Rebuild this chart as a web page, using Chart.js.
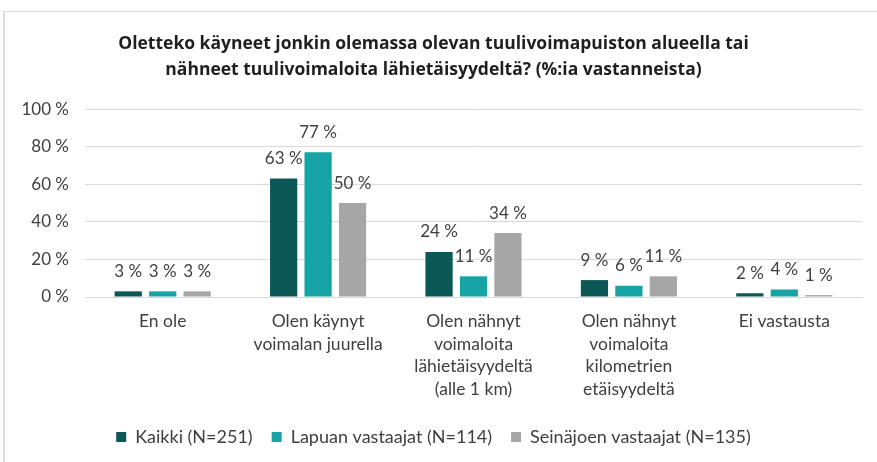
<!DOCTYPE html>
<html>
<head>
<meta charset="utf-8">
<script src="https://cdn.jsdelivr.net/npm/chart.js@4.4.1/dist/chart.umd.min.js"></script>
<style>
  html, body { margin: 0; padding: 0; background: #fff; }
  #frame { position: absolute; left: 3px; top: 11px; width: 874px; height: 451px;
           border-top: 1px solid #d9d9d9; border-left: 2px solid #dcdcdc; box-sizing: border-box; }
  #wrap { position: absolute; left: 5px; top: 12px; width: 872px; height: 450px; }
</style>
</head>
<body>
<div id="frame"></div>
<div id="wrap"><canvas id="chart"></canvas></div>
<script>
  /* ── Data ─────────────────────────────────────────────────────── */
  var TITLE = [
    "Oletteko käyneet jonkin olemassa olevan tuulivoimapuiston alueella tai",
    "nähneet tuulivoimaloita lähietäisyydeltä? (%:ia vastanneista)"
  ];
  var CATEGORIES = [
    "En ole",
    ["Olen käynyt", "voimalan juurella"],
    ["Olen nähnyt", "voimaloita", "lähietäisyydeltä", "(alle 1 km)"],
    ["Olen nähnyt", "voimaloita", "kilometrien", "etäisyydeltä"],
    "Ei vastausta"
  ];
  var SERIES_NAMES = ["Kaikki (N=251)", "Lapuan vastaajat (N=114)", "Seinäjoen vastaajat (N=135)"];
  var KAIKKI = [3, 63, 24, 9, 2];
  var LAPUA = [3, 77, 11, 6, 4];
  var SEINAJOKI = [3, 50, 34, 11, 1];
  var Y_TICKS = [0, 20, 40, 60, 80, 100];

  var COLORS = ["#0c5856", "#16a4a6", "#a6a6a6"];
  var FONT = "Lato, 'Open Sans', sans-serif";
  var TITLE_FONT = "'Open Sans', Lato, sans-serif";
  var TEXT = "#404040";

  /* ── Value labels above bars ──────────────────────────────────── */
  var valueLabels = {
    id: "valueLabels",
    afterDatasetsDraw: function (chart) {
      var ctx = chart.ctx;
      ctx.save();
      ctx.font = "17px " + FONT;
      ctx.fillStyle = TEXT;
      ctx.textAlign = "center";
      ctx.textBaseline = "middle";
      chart.data.datasets.forEach(function (ds, i) {
        chart.getDatasetMeta(i).data.forEach(function (bar, j) {
          ctx.fillText(ds.data[j] + " %", bar.x, bar.y - 20);
        });
      });
      ctx.restore();
    }
  };

  var datasets = [KAIKKI, LAPUA, SEINAJOKI].map(function (vals, i) {
    return {
      label: SERIES_NAMES[i],
      data: vals,
      backgroundColor: COLORS[i],
      categoryPercentage: 0.665,
      barPercentage: 0.79
    };
  });

  new Chart(document.getElementById("chart"), {
    type: "bar",
    data: { labels: CATEGORIES, datasets: datasets },
    plugins: [valueLabels],
    options: {
      responsive: true,
      maintainAspectRatio: false,
      animation: false,
      layout: { padding: { left: 0, right: 15, top: 0, bottom: 6 } },
      plugins: {
        title: {
          display: true,
          text: TITLE,
          color: "#1f1f1f",
          font: { family: TITLE_FONT, size: 17.5, weight: "bold", lineHeight: 1.43 },
          padding: { top: 20, bottom: 27 }
        },
        legend: {
          position: "bottom",
          labels: {
            color: TEXT,
            font: { family: FONT, size: 18 },
            boxWidth: 10,
            boxHeight: 10,
            padding: 19
          }
        },
        tooltip: { enabled: false }
      },
      scales: {
        x: {
          grid: { display: false },
          border: { color: "#d9d9d9" },
          ticks: {
            color: TEXT,
            font: { family: FONT, size: 17.5, lineHeight: 1.29 },
            maxRotation: 0,
            autoSkip: false,
            padding: 5
          },
          afterFit: function (scale) { scale.height = 112; }
        },
        y: {
          min: 0,
          max: 100,
          afterBuildTicks: function (scale) {
            scale.ticks = Y_TICKS.map(function (v) { return { value: v }; });
          },
          grid: { color: "#d9d9d9", drawTicks: false },
          border: { display: false },
          ticks: {
            color: TEXT,
            font: { family: FONT, size: 17 },
            padding: 16,
            callback: function (v) { return v + " %"; }
          },
          afterFit: function (scale) { scale.width = 80; }
        }
      }
    }
  });
</script>
</body>
</html>
